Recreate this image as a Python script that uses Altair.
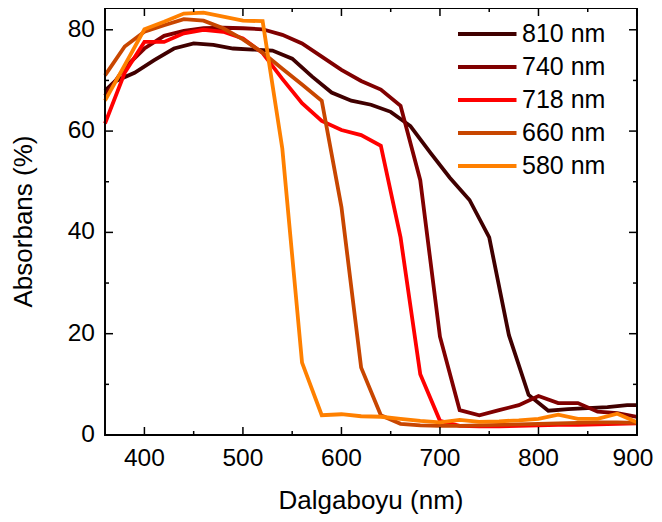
import altair as alt
import pandas as pd

# ---------------- data ----------------
series_names = ["810 nm", "740 nm", "718 nm", "660 nm", "580 nm"]
series_colors = ["#400000", "#800000", "#ff0000", "#c84600", "#ff8000"]

wl_even = [360, 380, 400, 420, 440, 460, 480, 500, 520, 540, 560, 580, 600, 620,
           640, 660, 680, 700, 720, 740, 760, 780, 800, 820, 840, 860, 880, 900]
wl_810 = [360, 370, 390, 410, 430, 450, 470, 490, 510, 530, 550, 570, 590, 610, 630,
          650, 670, 690, 710, 730, 750, 770, 790, 810, 830, 850, 870, 890, 900]

abs_810 = [68.0, 69.8, 71.5, 74.0, 76.3, 77.3, 77.0, 76.3, 76.1, 75.9, 74.3, 70.8, 67.6, 66.0, 65.2,
           63.8, 61.0, 55.8, 50.8, 46.4, 39.0, 19.7, 7.9, 4.8, 5.1, 5.3, 5.5, 5.9, 5.9]
abs_740 = [67.0, 72.5, 76.3, 78.8, 79.8, 80.3, 80.4, 80.3, 80.1, 79.0, 77.3, 74.7, 72.1, 69.9,
           68.2, 65.0, 50.3, 19.4, 4.9, 3.9, 4.9, 5.9, 7.7, 6.3, 6.3, 4.6, 4.3, 3.6]
abs_718 = [61.5, 71.5, 77.6, 77.6, 79.3, 80.0, 79.6, 78.3, 75.4, 70.3, 65.5, 62.0, 60.2, 59.2,
           57.1, 39.0, 12.0, 2.8, 1.8, 1.7, 1.7, 1.8, 1.9, 2.0, 2.0, 2.1, 2.2, 2.3]
abs_660 = [71.0, 76.7, 79.6, 80.9, 82.1, 81.8, 80.3, 78.1, 75.5, 72.3, 69.2, 66.0, 45.0, 13.3,
           3.9, 2.2, 1.9, 1.8, 1.8, 1.9, 2.0, 2.1, 2.2, 2.3, 2.4, 2.5, 2.5, 2.4]
abs_580 = [66.0, 73.0, 80.1, 81.6, 83.2, 83.4, 82.6, 81.8, 81.7, 56.5, 14.3, 3.9, 4.1, 3.7,
           3.6, 3.2, 2.8, 2.5, 3.0, 2.6, 2.7, 2.9, 3.2, 4.0, 3.2, 3.2, 4.2, 2.5]

x_domain = [360, 900]
y_domain = [0, 84.3]
x_major = [400, 500, 600, 700, 800, 900]
x_minor = [450, 550, 650, 750, 850]
y_major = [0, 20, 40, 60, 80]
y_minor = [10, 30, 50, 70]

x_title = "Dalgaboyu (nm)"
y_title = "Absorbans (%)"

W, H = 532, 427
FONT = "Liberation Sans"
MAJ, MIN = 8, 4          # inward tick lengths (px)
TICK_FS, TITLE_FS = 24.5, 26

# ---------------- tables ----------------
rows = []
series_x = [wl_810, wl_even, wl_even, wl_even, wl_even]
series_y = [abs_810, abs_740, abs_718, abs_660, abs_580]
for name, xs, ys in zip(series_names, series_x, series_y):
    for xv, yv in zip(xs, ys):
        rows.append({"wl": xv, "val": yv, "series": name})
df = pd.DataFrame(rows)

# inward ticks on all four sides, as 2-point segments in data space
x_span = x_domain[1] - x_domain[0]
y_span = y_domain[1] - y_domain[0]
tick_rows = []
seg = 0
for v in x_major + x_minor:
    L = (MAJ if v in x_major else MIN) / H * y_span
    for y0, y1 in [(y_domain[0], y_domain[0] + L), (y_domain[1], y_domain[1] - L)]:
        tick_rows += [{"wl": v, "val": y0, "seg": seg, "k": 0},
                      {"wl": v, "val": y1, "seg": seg, "k": 1}]
        seg += 1
for v in y_major + y_minor:
    L = (MAJ if v in y_major else MIN) / W * x_span
    for x0, x1 in [(x_domain[0], x_domain[0] + L), (x_domain[1], x_domain[1] - L)]:
        tick_rows += [{"wl": x0, "val": v, "seg": seg, "k": 0},
                      {"wl": x1, "val": v, "seg": seg, "k": 1}]
        seg += 1
ticks_df = pd.DataFrame(tick_rows)

frame_df = pd.DataFrame({
    "k": [0, 1, 2, 3, 4],
    "wl": [x_domain[0], x_domain[1], x_domain[1], x_domain[0], x_domain[0]],
    "val": [y_domain[0], y_domain[0], y_domain[1], y_domain[1], y_domain[0]],
})

xlab_df = pd.DataFrame({"v": x_major, "t": [str(v) for v in x_major]})
ylab_df = pd.DataFrame({"v": y_major, "t": [str(v) for v in y_major]})
title_df = pd.DataFrame({"xt": [x_title], "yt": [y_title]})

x_scale = alt.Scale(domain=x_domain, nice=False, zero=False)
y_scale = alt.Scale(domain=y_domain, nice=False, zero=False)

lines = alt.Chart(df).mark_line(strokeWidth=3.8).encode(
    x=alt.X("wl:Q", scale=x_scale, axis=None),
    y=alt.Y("val:Q", scale=y_scale, axis=None),
    color=alt.Color("series:N", sort=series_names,
                    scale=alt.Scale(domain=series_names, range=series_colors),
                    legend=alt.Legend(orient="none", legendX=351, legendY=11, title=None,
                                      symbolType="M-1,0H3.5", symbolSize=676,
                                      symbolStrokeWidth=4, labelFontSize=25, labelFont=FONT,
                                      labelColor="black", labelOffset=36, rowPadding=5,
                                      padding=0)),
)

ticks = alt.Chart(ticks_df).mark_line(color="#000000", strokeWidth=1.5, strokeCap="butt").encode(
    x=alt.X("wl:Q", scale=x_scale, axis=None),
    y=alt.Y("val:Q", scale=y_scale, axis=None),
    detail="seg:N",
    order="k:Q",
)

frame = alt.Chart(frame_df).mark_line(color="#000000", strokeWidth=1.8, strokeJoin="miter",
                                      strokeCap="square").encode(
    x=alt.X("wl:Q", scale=x_scale, axis=None),
    y=alt.Y("val:Q", scale=y_scale, axis=None),
    order="k:Q",
)

xlabels_main = alt.Chart(xlab_df).mark_text(font=FONT, fontSize=TICK_FS, color="black",
                                            align="center", baseline="top").encode(
    x=alt.X("v:Q", scale=x_scale, axis=None),
    y=alt.value(H + 12),
    text="t:N",
).transform_filter(f"datum.v < {x_domain[1]}")
xlabels_end = alt.Chart(xlab_df).mark_text(font=FONT, fontSize=TICK_FS, color="black",
                                           align="center", baseline="top", dx=-4).encode(
    x=alt.X("v:Q", scale=x_scale, axis=None),
    y=alt.value(H + 12),
    text="t:N",
).transform_filter(f"datum.v >= {x_domain[1]}")

ylabels = alt.Chart(ylab_df).mark_text(font=FONT, fontSize=TICK_FS, color="black",
                                       align="right", baseline="middle").encode(
    y=alt.Y("v:Q", scale=y_scale, axis=None),
    x=alt.value(-10),
    text="t:N",
)

xtitle = alt.Chart(title_df).mark_text(font=FONT, fontSize=TITLE_FS, color="black",
                                       align="center", baseline="top").encode(
    x=alt.value(W / 2),
    y=alt.value(480),
    text="xt:N",
)
ytitle = alt.Chart(title_df).mark_text(font=FONT, fontSize=TITLE_FS, color="black",
                                       align="center", baseline="middle", angle=270).encode(
    x=alt.value(-81),
    y=alt.value(H / 2),
    text="yt:N",
)

chart = alt.layer(lines, xlabels_main, xlabels_end, ylabels, xtitle, ytitle,
                  ticks, frame).properties(
    width=W, height=H,
    padding={"left": 97, "top": 0, "right": 17, "bottom": 79},
    autosize=alt.AutoSizeParams(type="none"),
).configure_view(stroke="black", strokeWidth=1.6)

chart.save("out.html", embed_options={"renderer": "svg", "actions": False})
